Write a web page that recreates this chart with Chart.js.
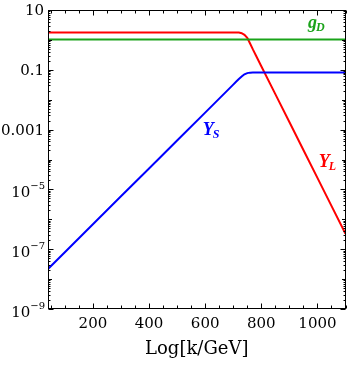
<!DOCTYPE html>
<html lang="en">
<head>
<meta charset="UTF-8">
<title>Couplings vs Log[k/GeV]</title>
<script src="https://cdn.jsdelivr.net/npm/chart.js"></script>
<style>
  html, body { margin: 0; padding: 0; background: #fff; }
</style>
</head>
<body>
<canvas id="chart" width="350" height="366"></canvas>
<script>
// values
const kValues = [40, 100, 200, 300, 400, 500, 600, 700, 710, 720, 730, 740, 750, 760, 770, 780, 800, 850, 900, 950, 1000, 1050, 1100];
const yL = [1.78, 1.78, 1.78, 1.78, 1.78, 1.78, 1.78, 1.78, 1.78, 1.76, 1.68, 1.48, 1.17, 0.76, 0.48, 0.312, 0.132, 0.0154, 1.79e-3, 2.08e-4, 2.42e-5, 2.82e-6, 3.26e-7];
const yS = [2.19e-8, 7.9e-8, 6.8e-7, 5.9e-6, 5.0e-5, 4.3e-4, 3.7e-3, 0.0319, 0.0398, 0.049, 0.0596, 0.0708, 0.0776, 0.0804, 0.0813, 0.0815, 0.0815, 0.0815, 0.0815, 0.0815, 0.0815, 0.0815, 0.0815];
const gD = [1.04, 1.04, 1.04, 1.04, 1.04, 1.04, 1.04, 1.04, 1.04, 1.04, 1.04, 1.04, 1.04, 1.04, 1.04, 1.04, 1.04, 1.04, 1.04, 1.04, 1.04, 1.04, 1.04];
const xTickLabels = [200, 400, 600, 800, 1000];
const yTickExponents = [1, -1, -3, -5, -7, -9];

const RED = '#ff0000', BLUE = '#0000ff', GREEN = '#1aa31a';

function toPoints(arr) {
    return kValues.map((k, i) => ({ x: k, y: arr[i] }));
}

// inward ticks on all four sides plus the frame
const frameAndTicks = {
    id: 'frameAndTicks',
    afterDatasetsDraw(chart) {
        const { ctx, chartArea: a, scales: { x, y } } = chart;
        const L = Math.round(a.left) + 0.5, R = Math.round(a.right) - 0.5;
        const T = Math.round(a.top) + 0.5, B = Math.round(a.bottom) - 0.5;
        ctx.save();
        ctx.strokeStyle = '#000';
        ctx.lineWidth = 1;
        ctx.beginPath();
        for (let k = 50; k <= 1100; k += 50) {
            const px = Math.round(x.getPixelForValue(k)) + 0.5;
            const len = k % 200 === 0 ? 5 : 3;
            ctx.moveTo(px, B); ctx.lineTo(px, B - len);
            ctx.moveTo(px, T); ctx.lineTo(px, T + len);
        }
        for (let e = -9; e <= 1; e++) {
            for (let m = 1; m <= 9; m++) {
                if (e === 1 && m > 1) break;
                const py = Math.round(y.getPixelForValue(m * Math.pow(10, e))) + 0.5;
                let len = 2;
                if (m === 1) len = (e % 2 !== 0) ? 5 : 3.5;
                ctx.moveTo(L, py); ctx.lineTo(L + len, py);
                ctx.moveTo(R, py); ctx.lineTo(R - len, py);
            }
        }
        ctx.stroke();
        ctx.strokeRect(L, T, R - L, B - T);
        ctx.restore();
    }
};

// y tick labels with superscripts, and the curve names
const labels = {
    id: 'labels',
    afterDraw(chart) {
        const { ctx, chartArea: a, scales: { x, y } } = chart;
        ctx.save();
        ctx.fillStyle = '#000';
        ctx.textAlign = 'right';
        ctx.textBaseline = 'alphabetic';
        const right = a.left - 4;
        yTickExponents.forEach(e => {
            const py = y.getPixelForValue(Math.pow(10, e));
            ctx.font = '15px "DejaVu Serif"';
            if (e >= -3) {
                const txt = e === 1 ? '10' : (e === -1 ? '0.1' : '0.001');
                ctx.fillText(txt, right, py + 5.3);
            } else {
                ctx.font = '10px "DejaVu Serif"';
                const sup = '\u2212' + (-e);
                const sw = ctx.measureText(sup).width;
                ctx.fillText(sup, right + 1, py - 0.5);
                ctx.font = '15px "DejaVu Serif"';
                ctx.fillText('10', right + 1 - sw, py + 7.5);
            }
        });

        ctx.textAlign = 'left';
        function name(main, sub, k, v, color) {
            const px = x.getPixelForValue(k), py = y.getPixelForValue(v);
            ctx.fillStyle = color;
            ctx.font = 'italic bold 18px "Liberation Serif"';
            ctx.fillText(main, px, py);
            const w = ctx.measureText(main).width;
            ctx.font = 'italic bold 12px "Liberation Serif"';
            ctx.fillText(sub, px + w - 1, py + 3);
        }
        name('Y', 'S', 591, 6.7e-4, BLUE);
        name('Y', 'L', 1005, 5.7e-5, RED);
        name('g', 'D', 966, 2.55, GREEN);
        ctx.restore();
    }
};

new Chart(document.getElementById('chart').getContext('2d'), {
    type: 'line',
    data: {
        datasets: [
            { label: 'g_D', data: toPoints(gD), borderColor: GREEN },
            { label: 'Y_S', data: toPoints(yS), borderColor: BLUE },
            { label: 'Y_L', data: toPoints(yL), borderColor: RED }
        ]
    },
    options: {
        responsive: false,
        animation: false,
        events: [],
        layout: { padding: { top: 10, right: 4.5, left: 0, bottom: 0 } },
        elements: {
            point: { radius: 0 },
            line: { borderWidth: 2, tension: 0, fill: false }
        },
        plugins: { legend: { display: false }, tooltip: { enabled: false } },
        scales: {
            x: {
                type: 'linear',
                min: 40,
                max: 1100,
                grid: { display: false, drawTicks: false },
                border: { display: false },
                afterBuildTicks: s => { s.ticks = xTickLabels.map(v => ({ value: v })); },
                afterFit: s => { s.height = 57; },
                ticks: {
                    color: '#000',
                    padding: 6,
                    maxRotation: 0,
                    font: { family: 'DejaVu Serif', size: 15 },
                    callback: v => String(v)
                },
                title: {
                    display: true,
                    text: 'Log[k/GeV]',
                    color: '#000',
                    font: { family: 'DejaVu Serif', size: 18 },
                    padding: { top: 0, bottom: 6 }
                }
            },
            y: {
                type: 'logarithmic',
                min: 1e-9,
                max: 10,
                grid: { display: false, drawTicks: false },
                border: { display: false },
                ticks: { display: false },
                afterFit: s => { s.width = 48; }
            }
        }
    },
    plugins: [frameAndTicks, labels]
});
</script>
</body>
</html>
